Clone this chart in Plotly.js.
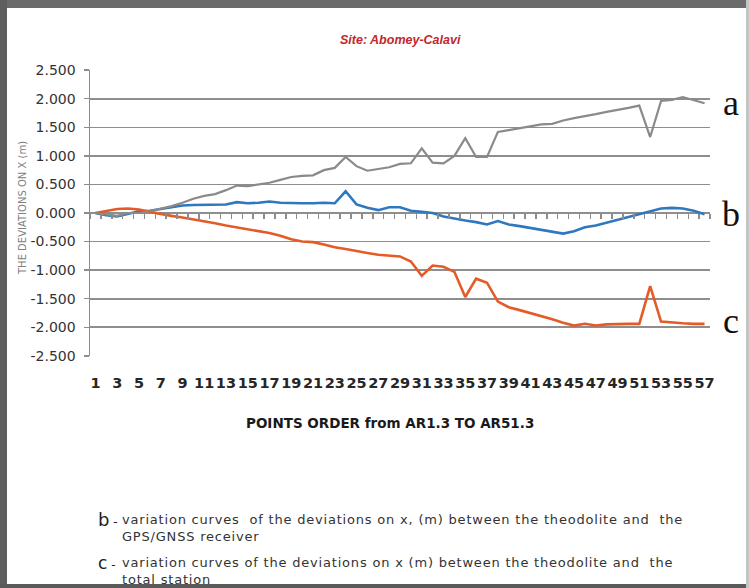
<!DOCTYPE html>
<html>
<head>
<meta charset="utf-8">
<script src="https://cdn.plot.ly/plotly-3.0.1.min.js"></script>
<style>
  html, body { margin: 0; padding: 0; background: #fff; }
  #wrap { position: relative; width: 749px; height: 588px; overflow: hidden; }
  #chart { position: absolute; left: 0; top: 0; width: 749px; height: 588px; }
  .band { position: absolute; pointer-events: none; }
</style>
</head>
<body>
<div id="wrap">
  <div id="chart"></div>
  <div class="band" style="left:0;top:0;width:749px;height:8px;background:#6b6b6b;"></div>
  <div class="band" style="left:0;top:0;width:7px;height:588px;background:#5e5e5e;"></div>
  <div class="band" style="left:0;top:584px;width:749px;height:4px;background:#5a5a5a;"></div>
  <div class="band" style="left:746px;top:0;width:3px;height:588px;background:#c4c4c4;"></div>
</div>
<script>
// ---- data ----
var points = [1,2,3,4,5,6,7,8,9,10,11,12,13,14,15,16,17,18,19,20,21,22,23,24,25,26,27,28,29,30,
              31,32,33,34,35,36,37,38,39,40,41,42,43,44,45,46,47,48,49,50,51,52,53,54,55,56,57];

// a : grey curve
var seriesA = [0.00,-0.03,-0.05,0.00,0.00,0.03,0.07,0.12,0.18,0.25,0.30,0.33,0.40,0.48,0.47,0.50,0.53,0.58,0.63,0.65,
               0.66,0.75,0.79,0.98,0.82,0.74,0.77,0.80,0.86,0.87,1.13,0.88,0.87,1.00,1.31,0.98,0.98,1.42,1.45,1.48,
               1.51,1.55,1.56,1.62,1.66,1.69,1.73,1.77,1.80,1.84,1.88,1.33,1.96,1.98,2.03,1.98,1.92];

// b : theodolite vs GPS/GNSS receiver (blue)
var seriesB = [0.00,-0.04,-0.06,-0.02,0.03,0.04,0.07,0.11,0.13,0.14,0.14,0.15,0.15,0.19,0.17,0.18,0.20,0.18,0.17,0.17,
               0.17,0.18,0.17,0.38,0.15,0.09,0.05,0.10,0.10,0.04,0.02,0.00,-0.06,-0.10,-0.13,-0.16,-0.20,-0.14,-0.20,-0.23,
               -0.26,-0.30,-0.33,-0.36,-0.32,-0.25,-0.22,-0.17,-0.12,-0.07,-0.02,0.04,0.08,0.09,0.08,0.04,-0.02];

// c : theodolite vs total station (orange)
var seriesC = [0.00,0.04,0.07,0.08,0.06,0.02,-0.02,-0.05,-0.08,-0.11,-0.15,-0.18,-0.22,-0.25,-0.28,-0.31,-0.35,-0.40,-0.46,-0.50,
               -0.51,-0.55,-0.60,-0.63,-0.67,-0.70,-0.73,-0.74,-0.76,-0.85,-1.10,-0.92,-0.94,-1.03,-1.47,-1.15,-1.22,-1.55,-1.65,-1.70,
               -1.75,-1.80,-1.86,-1.92,-1.97,-1.94,-1.97,-1.95,-1.94,-1.94,-1.94,-1.28,-1.90,-1.92,-1.93,-1.94,-1.94];

var xTickVals = [1,3,5,7,9,11,13,15,17,19,21,23,25,27,29,31,33,35,37,39,41,43,45,47,49,51,53,55,57];
var xTickText = ["1","3","5","7","9","11","13","15","17","19","21","23","25","27","29","31","33","35","37","39",
                 "41","43","45","47","49","51","53","55","57"];
var yTickVals = [-2.5,-2,-1.5,-1,-0.5,0,0.5,1,1.5,2,2.5];
var yTickText = ["-2.500","-2.000","-1.500","-1.000","-0.500","0.000","0.500","1.000","1.500","2.000","2.500"];

var titleText = "Site: Abomey-Calavi";
var yTitleText = "THE DEVIATIONS ON X (m)";
var xTitleText = "POINTS ORDER from AR1.3 TO AR51.3";
var noteB = ["variation curves  of the deviations on x, (m) between the theodolite and  the", "GPS/GNSS receiver"];
var noteC = ["variation curves of the deviations on x (m) between the theodolite and  the", "total station"];

// ---- traces ----
var traces = [
  {x: points, y: seriesA, type: 'scatter', mode: 'lines', name: 'a', xaxis: 'x2', yaxis: 'y',
   line: {color: '#8a8a8a', width: 2.2}, hoverinfo: 'skip'},
  {x: points, y: seriesB, type: 'scatter', mode: 'lines', name: 'b',
   line: {color: '#2f78c0', width: 2.6}, hoverinfo: 'skip'},
  {x: points, y: seriesC, type: 'scatter', mode: 'lines', name: 'c',
   line: {color: '#e45b27', width: 2.6}, hoverinfo: 'skip'}
];

// paper coordinate helpers (plot area in page px: x 90..710, y 70..356)
function px(x) { return (x - 90) / 620; }
function py(y) { return (356 - y) / 286; }

var serif = 'Liberation Serif, Times New Roman, serif';
var sans = 'DejaVu Sans, sans-serif';
function spaced(s, sp) { return '<span style="letter-spacing:' + sp + 'px">' + s + '</span>'; }

var layout = {
  width: 749, height: 588,
  margin: {l: 90, r: 39, t: 70, b: 232, pad: 0},
  paper_bgcolor: '#ffffff', plot_bgcolor: '#ffffff',
  showlegend: false,
  xaxis: {
    type: 'linear', range: [0.5, 57.5], fixedrange: true,
    tickmode: 'array', tickvals: xTickVals, ticktext: xTickText, tickangle: 0,
    ticks: 'outside', ticklen: 14, tickcolor: 'rgba(0,0,0,0)',
    showgrid: false, zeroline: false, showline: false,
    tickfont: {family: sans, size: 14.5, color: '#262626', weight: 'bold'}
  },
  xaxis2: {
    type: 'linear', range: [0.5, 57.5], overlaying: 'x', anchor: 'free', position: 0.5, side: 'bottom',
    tickmode: 'linear', tick0: 0.5, dtick: 1,
    ticks: 'outside', ticklen: 5, tickwidth: 1.5, tickcolor: '#8c8c8c',
    showticklabels: false, showgrid: false, zeroline: false, showline: false
  },
  yaxis: {
    range: [-2.503, 2.503], fixedrange: true,
    tickmode: 'array', tickvals: yTickVals, ticktext: yTickText,
    ticks: 'outside', ticklen: 5, tickwidth: 1.5, tickcolor: '#8c8c8c',
    ticklabelstandoff: 5,
    showline: true, linecolor: '#8c8c8c', linewidth: 1.5,
    showgrid: true, gridcolor: '#8e8e8e', gridwidth: 1.6, zeroline: false,
    tickfont: {family: sans, size: 14, color: '#333333'}
  },
  annotations: [
    {text: titleText, xref: 'paper', yref: 'paper', x: 0.5, y: py(40), xanchor: 'center', yanchor: 'middle', showarrow: false,
     font: {family: 'Liberation Sans, Arial, sans-serif', size: 12.5, color: '#c3262b', weight: 'bold', style: 'italic'}},
    {text: yTitleText, xref: 'paper', yref: 'paper', x: px(22), y: py(208), textangle: -90, xanchor: 'center', yanchor: 'middle', showarrow: false,
     font: {family: sans, size: 10, color: '#808080'}},
    {text: xTitleText, xref: 'paper', yref: 'paper', x: px(390), y: py(423), xanchor: 'center', yanchor: 'middle', showarrow: false,
     font: {family: sans, size: 13.5, color: '#1a1a1a', weight: 'bold'}},
    {text: 'a', xref: 'paper', yref: 'paper', x: px(731), y: py(103), xanchor: 'center', yanchor: 'middle', showarrow: false,
     font: {family: serif, size: 36, color: '#111111'}},
    {text: 'b', xref: 'paper', yref: 'paper', x: px(731), y: py(214), xanchor: 'center', yanchor: 'middle', showarrow: false,
     font: {family: serif, size: 36, color: '#111111'}},
    {text: 'c', xref: 'paper', yref: 'paper', x: px(731), y: py(321), xanchor: 'center', yanchor: 'middle', showarrow: false,
     font: {family: serif, size: 36, color: '#111111'}},
    {text: '<span style="font-size:18px">b</span> -', xref: 'paper', yref: 'paper', x: px(96), y: py(519), xanchor: 'left', yanchor: 'middle', showarrow: false,
     font: {family: sans, size: 12, color: '#222222'}},
    {text: spaced(noteB[0], 0.8) + '<br>' + spaced(noteB[1], 0.8), xref: 'paper', yref: 'paper', x: px(120), y: py(528), xanchor: 'left', yanchor: 'middle', align: 'left', showarrow: false,
     font: {family: sans, size: 13, color: '#333333'}},
    {text: '<span style="font-size:17px">c</span> -', xref: 'paper', yref: 'paper', x: px(96), y: py(563), xanchor: 'left', yanchor: 'middle', showarrow: false,
     font: {family: sans, size: 12, color: '#222222'}},
    {text: spaced(noteC[0], 0.8) + '<br>' + spaced(noteC[1], 0.8), xref: 'paper', yref: 'paper', x: px(120), y: py(571), xanchor: 'left', yanchor: 'middle', align: 'left', showarrow: false,
     font: {family: sans, size: 13, color: '#333333'}}
  ]
};

Plotly.newPlot('chart', traces, layout, {staticPlot: true, displayModeBar: false});
</script>
</body>
</html>
